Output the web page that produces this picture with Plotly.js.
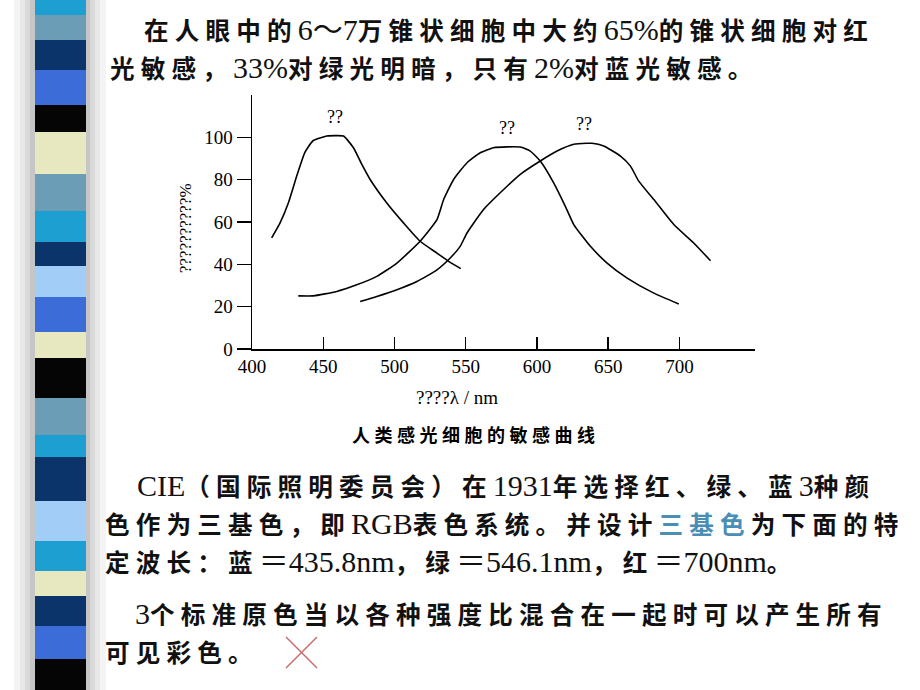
<!DOCTYPE html>
<html><head><meta charset="utf-8">
<script src="https://cdn.plot.ly/plotly-3.0.1.min.js"></script>
<style>html,body{margin:0;padding:0;background:#fff}</style>
</head><body><div id="chart" style="width:920px;height:690px"></div>
<script>
// ---- data ----
const blueX  = [413.8, 419.7, 425.5, 431.4, 437.2, 443.0, 452.5, 458.3, 464.2, 471.2, 477.1, 482.9, 494.6, 506.3, 518.0, 529.8, 538.0, 546.5];
const blueY  = [52.5, 59.6, 69.0, 81.7, 93.0, 98.5, 100.6, 100.8, 100.6, 95.1, 87.2, 80.1, 69.0, 59.6, 50.9, 45.3, 41.4, 38.0];
const greenX = [432.5, 443.0, 459.5, 473.5, 487.6, 501.7, 518.0, 529.8, 534.5, 541.5, 550.9, 560.2, 569.5, 579.0, 588.3, 595.3, 602.3, 611.7, 619.9, 625.8, 637.5, 649.2, 663.3, 682.0, 699.5];
const greenY = [25.1, 25.1, 27.2, 30.3, 34.3, 40.6, 50.9, 61.1, 70.6, 80.1, 88.0, 92.7, 95.1, 95.5, 95.4, 93.5, 88.8, 78.5, 67.4, 58.8, 48.5, 40.6, 33.5, 26.4, 21.3];
const redX   = [475.9, 487.6, 501.7, 515.7, 529.8, 539.1, 546.1, 550.9, 562.5, 574.2, 588.3, 602.3, 614.1, 625.8, 635.1, 638.7, 646.8, 658.6, 665.6, 671.4, 682.0, 696.0, 710.0, 721.8];
const redY   = [22.4, 24.8, 28.0, 31.9, 37.4, 43.0, 48.5, 54.8, 65.9, 73.8, 82.5, 88.8, 93.5, 96.7, 97.2, 97.2, 95.9, 91.1, 86.4, 79.3, 70.6, 58.8, 50.1, 41.7];
const peakLabels = ['??', '??', '??'];
const xTickVals = [400, 450, 500, 550, 600, 650, 700];
const yTickVals = [0, 20, 40, 60, 80, 100];
const xTitle = '????λ / nm';
const yTitle = '??????????%';
const caption = '人类感光细胞的敏感曲线';
const textLines = [
  '在人眼中的6～7万锥状细胞中大约65%的锥状细胞对红',
  '光敏感，33%对绿光明暗，只有2%对蓝光敏感。',
  'CIE（国际照明委员会）在1931年选择红、绿、蓝3种颜',
  '色作为三基色，即RGB表色系统。并设计[三基色]为下面的特',
  '定波长：蓝＝435.8nm，绿＝546.1nm，红＝700nm。',
  '3个标准原色当以各种强度比混合在一起时可以产生所有',
  '可见彩色。'
];

// ---- layout helpers (pixel -> paper) ----
const L = 252, R = 755, T = 95, B = 349;
const px = x => (x - L) / (R - L);
const py = y => (B - y) / (B - T);

const SERIF = "'Liberation Serif','Noto Sans CJK SC',serif";
function rich(s) {
  const SP = '\u2005';
  let out = '';
  const parts = s.split(/(\[[^\]]*\])/);
  for (const p of parts) {
    if (!p) continue;
    let blue = false, t = p;
    if (p.startsWith('[')) { blue = true; t = p.slice(1, -1); }
    const segs = t.split(/([0-9A-Za-z.%～＝]+)/);
    let seg = '';
    for (const g of segs) {
      if (!g) continue;
      if (/^[0-9A-Za-z.%～＝]+$/.test(g)) {
        seg += `<span style="font-family:${SERIF};font-size:30px;font-weight:normal">${g}</span>`;
      } else {
        seg += g.split('').join(SP) + SP;
      }
    }
    out += blue ? `<span style="color:#4a8db5">${seg}</span>` : seg;
  }
  return out;
}

function peak(xs, ys) {
  const m = Math.max(...ys);
  const sel = xs.filter((x, i) => ys[i] >= m - 0.5);
  return [sel.reduce((a, b) => a + b, 0) / sel.length, m];
}

const lineStyle = {color: '#000', width: 1.6, shape: 'spline', smoothing: 0.5};
const traces = [
  {x: blueX, y: blueY, mode: 'lines', line: lineStyle, name: 'blue', hoverinfo: 'skip'},
  {x: greenX, y: greenY, mode: 'lines', line: lineStyle, name: 'green', hoverinfo: 'skip'},
  {x: redX, y: redY, mode: 'lines', line: lineStyle, name: 'red', hoverinfo: 'skip'}
];

const annotations = [];
[[blueX, blueY], [greenX, greenY], [redX, redY]].forEach((s, i) => {
  const [xp, yp] = peak(s[0], s[1]);
  annotations.push({x: xp, y: yp, xref: 'x', yref: 'y', text: peakLabels[i], showarrow: false,
    xanchor: 'center', yanchor: 'middle', yshift: 19, font: {family: SERIF, size: 18, color: '#000'}});
});
annotations.push({xref: 'paper', yref: 'paper', x: px(457), y: py(397), xanchor: 'center', yanchor: 'middle', text: xTitle, showarrow: false,
  font: {family: SERIF, size: 19, color: '#000'}});
annotations.push({xref: 'paper', yref: 'paper', x: px(185), y: py(228), xanchor: 'center', yanchor: 'middle', text: yTitle, showarrow: false, textangle: -90,
  font: {family: SERIF, size: 17, color: '#000'}});
annotations.push({xref: 'paper', yref: 'paper', x: px(473), y: py(434), xanchor: 'center', yanchor: 'middle', text: caption.split('').join('\u2005'), showarrow: false,
  font: {family: "'Noto Sans CJK SC'", size: 18, weight: 700, color: '#000'}});

const lineX = [142, 108, 135, 103, 103, 133, 103];
const lineY = [29, 67, 485, 523, 561, 613, 651];
textLines.forEach((t, i) => {
  annotations.push({xref: 'paper', yref: 'paper', x: px(lineX[i]), y: py(lineY[i]), xanchor: 'left', yanchor: 'middle',
    text: rich(t), showarrow: false, font: {family: "'Noto Sans CJK SC'", size: 24.6, weight: 700, color: '#111'}});
});

// ---- decorative left stripe bar ----
const stripeCols = ['#1e9fd2','#6b9db6','#0b356a','#3c6cd8','#050505','#e7e7c0','#6b9db6','#1e9fd2','#0b356a','#a2cdf6','#3c6cd8','#e7e7c0','#050505','#6b9db6','#1e9fd2','#0b356a','#a2cdf6','#1e9fd2','#e7e7c0','#0b356a','#3c6cd8','#050505'];
const stripeEdges = [0,15,40,70,105,132,174,211,242,266,297,332,358,398,435,457,501,541,571,596,626,659,690];
const shapes = [];
[[14,106,'#f4f4f4'],[20,100,'#e8e8e8'],[25,95,'#d9d9d9'],[30,90,'#c6c6c6']].forEach(([a,b,c]) => {
  shapes.push({type:'rect', xref:'paper', yref:'paper', x0:px(a), x1:px(b), y0:py(0), y1:py(690), fillcolor:c, line:{width:0}, layer:'below'});
});
stripeCols.forEach((c, i) => {
  shapes.push({type:'rect', xref:'paper', yref:'paper', x0:px(35), x1:px(86), y0:py(stripeEdges[i]), y1:py(stripeEdges[i+1]), fillcolor:c, line:{width:0}, layer:'below'});
});
// red cross mark
shapes.push({type:'line', xref:'paper', yref:'paper', x0:px(286), y0:py(637), x1:px(317), y1:py(668), line:{color:'#c96a6a', width:1.5}});
shapes.push({type:'line', xref:'paper', yref:'paper', x0:px(317), y0:py(637), x1:px(286), y1:py(668), line:{color:'#c96a6a', width:1.5}});

const layout = {
  width: 920, height: 690,
  margin: {l: L, r: 920 - R, t: T, b: 690 - B, pad: 0},
  paper_bgcolor: '#fff', plot_bgcolor: 'rgba(0,0,0,0)',
  showlegend: false,
  xaxis: {range: [400, 753], tickvals: xTickVals, ticktext: xTickVals.map(String), ticks: 'inside', ticklen: 12, tickwidth: 1.5,
    tickcolor: '#000', showline: true, linecolor: '#000', linewidth: 1.5, showgrid: false, zeroline: false,
    tickfont: {family: SERIF, size: 19, color: '#000'}, fixedrange: true},
  yaxis: {range: [0, 120], tickvals: yTickVals, ticktext: yTickVals.map(String), ticks: 'outside', ticklen: 14, tickwidth: 1.5,
    tickcolor: '#000', showline: true, linecolor: '#000', linewidth: 1.5, showgrid: false, zeroline: false,
    tickfont: {family: SERIF, size: 19, color: '#000'}, fixedrange: true},
  annotations: annotations,
  shapes: shapes
};
Plotly.newPlot('chart', traces, layout, {staticPlot: true, displayModeBar: false});
</script>
</body></html>
